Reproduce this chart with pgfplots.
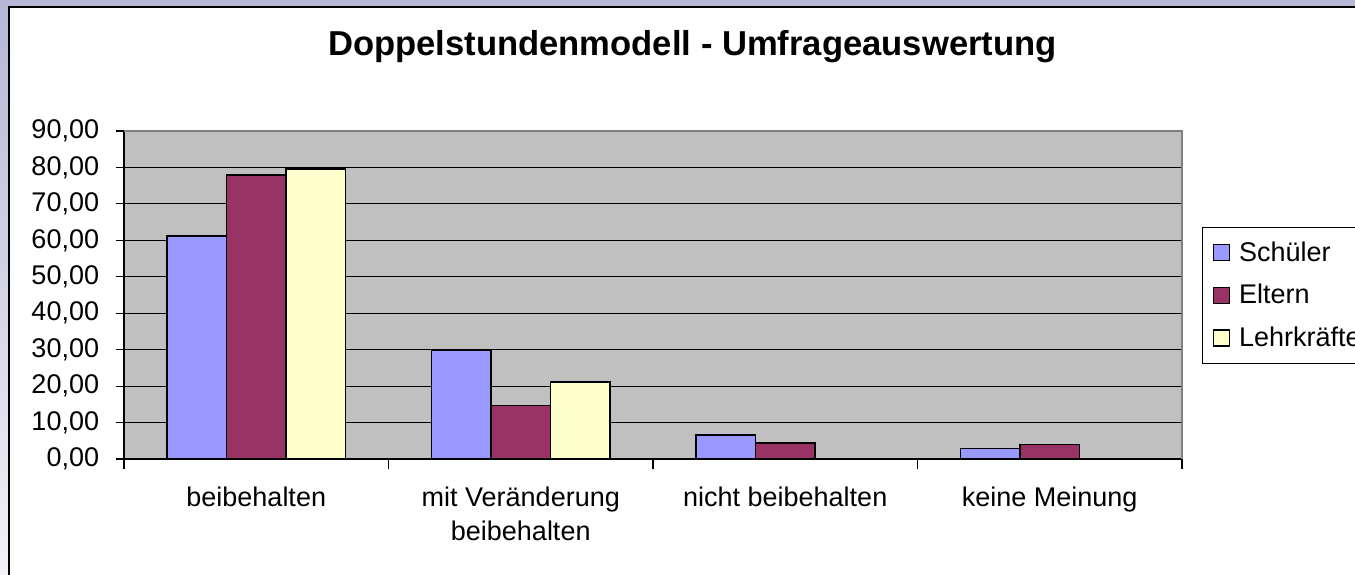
\documentclass[border=0pt]{standalone}
\usepackage{pgfplots}
\pgfplotsset{compat=1.18}
\usepackage{fontspec}
\setmainfont{Liberation Sans}
\definecolor{bgtop}{RGB}{182,182,214}
\definecolor{bgbot}{RGB}{242,242,248}
\definecolor{plotbg}{RGB}{192,192,192}
\definecolor{frgray}{RGB}{128,128,128}
\definecolor{cS}{RGB}{153,153,255}
\definecolor{cE}{RGB}{153,51,102}
\definecolor{cL}{RGB}{255,255,204}
\begin{document}
\begin{tikzpicture}
\useasboundingbox (0,0) rectangle (677.5pt,287pt);
\begin{scope}
\clip (0,0) rectangle (677.5pt,287pt);
\shade[top color=bgtop,bottom color=bgbot] (0,0) rectangle (677.5pt,287pt);
\filldraw[fill=white,draw=black,line width=1pt] (4.5pt,-10pt) rectangle (700pt,283.5pt);
\node[font=\fontsize{17.3}{21}\selectfont\bfseries, anchor=base, inner sep=0pt] at (346.2pt,259pt) {Doppelstundenmodell - Umfrageauswertung};
\begin{axis}[
  at={(62pt,57.5pt)}, anchor=south west,
  width=529pt, height=164pt, scale only axis,
  ymin=0, ymax=90, ytick={0,10,...,90},
  xmin=-0.5, xmax=3.5,
  xtick={-0.5,0.5,1.5,2.5,3.5},
  x tick label as interval,
  xticklabels={beibehalten,{mit Veränderung\\beibehalten},nicht beibehalten,keine Meinung},
  xticklabel style={align=center, font=\fontsize{13.5}{17}\selectfont, anchor=north, inner sep=0pt, yshift=-9.5pt},
  yticklabel style={font=\fontsize{13.5}{16}\selectfont, anchor=east, inner sep=0pt, xshift=-8pt},
  /pgf/number format/fixed,
  /pgf/number format/fixed zerofill,
  /pgf/number format/precision=2,
  /pgf/number format/use comma,
  /pgf/number format/assume math mode=true,
  axis x line*=bottom, axis y line*=left,
  tick align=outside,
  xtick style={/pgfplots/major tick length=5pt, black, line width=0.6pt},
  ytick style={/pgfplots/major tick length=4pt, black, line width=0.6pt},
  ymajorgrids,
  major grid style={black, line width=0.6pt},
  axis background/.style={fill=plotbg},
  axis line style={black, line width=0.6pt},
  ybar=0pt, bar width=29.75pt,
  every axis plot/.append style={draw=black, line width=0.9pt},
  legend style={at={(1.0189,0.7073)}, anchor=north west, draw=black, line width=0.5pt, fill=white,
    font=\fontsize{13.5}{16}\selectfont, row sep=6pt, inner xsep=5pt, inner ysep=5pt, cells={anchor=west}},
  legend image code/.code={\draw[#1, draw=black, line width=0.6pt] (0pt,-4pt) rectangle (8pt,4pt); \path[draw=none,fill=none] (8pt,0pt) rectangle (11pt,0.1pt);},
  after end axis/.code={\draw[frgray, line width=0.8pt] (rel axis cs:0,1) -- (rel axis cs:1,1) -- (rel axis cs:1,0);},
]
\addplot[fill=cS] coordinates {(0,61.2) (1,29.9) (2,6.6) (3,2.9)};
\addplot[fill=cE] coordinates {(0,78.0) (1,14.7) (2,4.4) (3,4.0)};
\addplot[fill=cL] coordinates {(0,79.5) (1,21.1)};
\legend{Schüler,Eltern,Lehrkräfte}
\end{axis}
\end{scope}
\end{tikzpicture}
\end{document}
